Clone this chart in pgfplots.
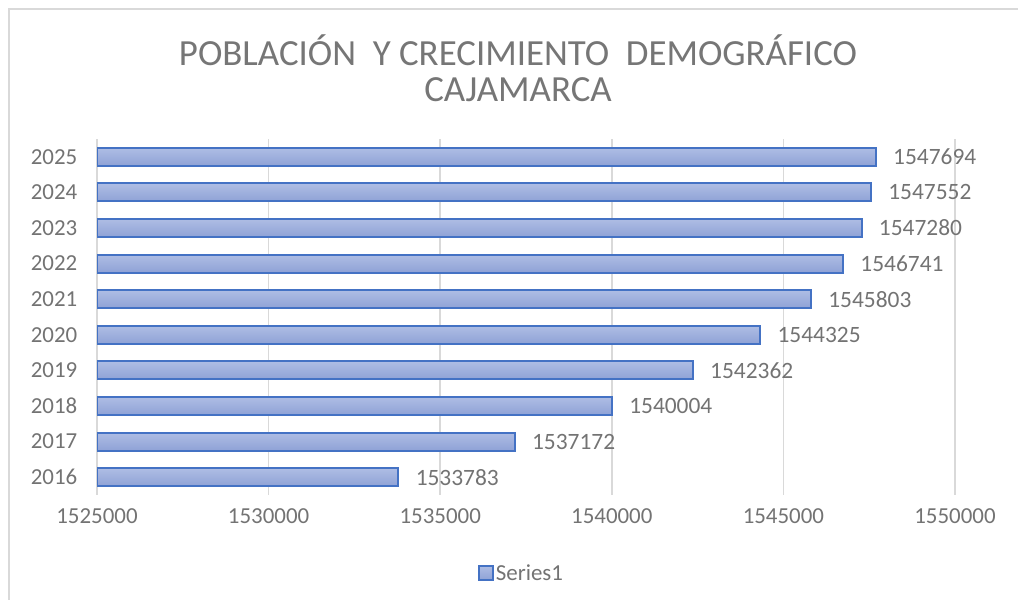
\documentclass[border=0pt]{standalone}
\usepackage{fontspec}
\setmainfont{Carlito}
\usepackage{pgfplots}
\pgfplotsset{compat=1.18}
\definecolor{txtgray}{HTML}{737373}
\definecolor{titlegray}{HTML}{767676}
\definecolor{gridgray}{HTML}{D9D9D9}
\definecolor{baredge}{HTML}{4472C4}
\definecolor{bartop}{HTML}{AEBDE4}
\definecolor{barbot}{HTML}{8FA2D6}
\pgfplotsset{onebar/.style={draw=baredge, line width=2bp, top color=bartop, bottom color=barbot, bar shift=0pt}}
\begin{document}
\begin{tikzpicture}
\useasboundingbox (0,0) rectangle (1018bp,600bp);
\draw[gridgray, line width=2bp] (9bp,0bp) -- (9bp,591bp) -- (1018bp,591bp);
\node[titlegray, font=\fontsize{37}{40}\selectfont] at (518bp,550bp) {POBLACIÓN\ \ Y CRECIMIENTO\ \ DEMOGRÁFICO};
\node[titlegray, font=\fontsize{37}{40}\selectfont] at (518bp,510bp) {CAJAMARCA};
\begin{axis}[
  at={(97bp,105bp)}, anchor=south west,
  scale only axis,
  width=858bp, height=356bp,
  xmin=1525000, xmax=1550000,
  ymin=-0.5, ymax=9.5,
  xtick={1525000,1530000,1535000,1540000,1545000,1550000},
  ytick={0,...,9},
  yticklabels={2016,2017,2018,2019,2020,2021,2022,2023,2024,2025},
  scaled x ticks=false,
  /pgf/number format/fixed,
  /pgf/number format/1000 sep={},
  /pgf/number format/assume math mode=true,
  ticklabel style={font=\fontsize{23}{25}\selectfont, text=txtgray},
  xticklabel style={yshift=-10bp},
  yticklabel style={xshift=-12bp},
  axis line style={draw=none},
  tick style={draw=none},
  xmajorgrids=true,
  major grid style={gridgray, line width=1.5bp},
  xbar, bar width=18bp,
  nodes near coords,
  point meta=explicit symbolic,
  nodes near coords style={font=\fontsize{23.5}{25}\selectfont, text=txtgray, anchor=west, xshift=13bp},
  legend style={at={(0.495,-0.219)}, anchor=center, draw=none, fill=none,
    font=\fontsize{23}{25}\selectfont, text=txtgray},
  legend image code/.code={\draw[baredge, line width=1.5bp, top color=bartop, bottom color=barbot] (0bp,-7bp) rectangle (14bp,7bp);},
]
\addplot[onebar] table[meta=v] {
x y v
1533783 0 1533783
};
\addlegendentry{Series1}
\addplot[onebar, forget plot] table[meta=v] {
x y v
1537172 1 1537172
};
\addplot[onebar, forget plot] table[meta=v] {
x y v
1540004 2 1540004
};
\addplot[onebar, forget plot] table[meta=v] {
x y v
1542362 3 1542362
};
\addplot[onebar, forget plot] table[meta=v] {
x y v
1544325 4 1544325
};
\addplot[onebar, forget plot] table[meta=v] {
x y v
1545803 5 1545803
};
\addplot[onebar, forget plot] table[meta=v] {
x y v
1546741 6 1546741
};
\addplot[onebar, forget plot] table[meta=v] {
x y v
1547280 7 1547280
};
\addplot[onebar, forget plot] table[meta=v] {
x y v
1547552 8 1547552
};
\addplot[onebar, forget plot] table[meta=v] {
x y v
1547694 9 1547694
};
\end{axis}
\end{tikzpicture}
\end{document}
